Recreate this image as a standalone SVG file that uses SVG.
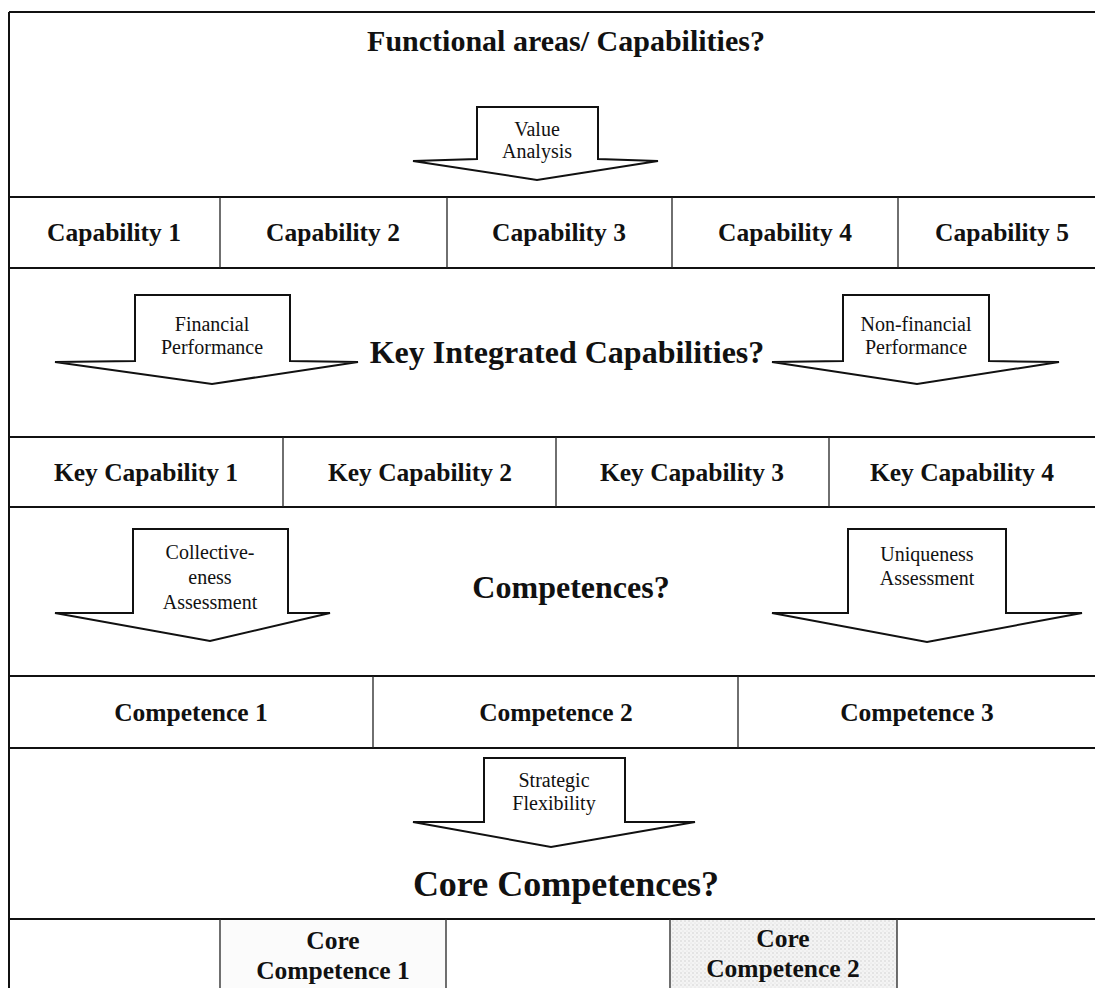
<svg xmlns="http://www.w3.org/2000/svg" width="1095" height="988" viewBox="0 0 1095 988">
  <style>
    .frame { stroke: #111; stroke-width: 2; fill: none; }
    .hline { stroke: #111; stroke-width: 1.8; }
    .vline { stroke: #222; stroke-width: 1.3; }
    .head { font-family: "Liberation Serif", "Times New Roman", serif; font-weight: bold; font-size: 30px; fill: #111; text-anchor: middle; }
    .head-l { font-size: 32px; }
    .head-xl { font-size: 36px; }
    .label { font-family: "Liberation Serif", "Times New Roman", serif; font-weight: bold; font-size: 25.5px; fill: #111; text-anchor: middle; }
    .small { font-family: "Liberation Serif", "Times New Roman", serif; font-size: 20px; fill: #111; text-anchor: middle; }
    .arrow { fill: #fff; stroke: #111; stroke-width: 2; stroke-linejoin: miter; }
  </style>
  <defs>
    <pattern id="halftone" width="4" height="4" patternUnits="userSpaceOnUse">
      <rect width="4" height="4" fill="#f4f4f4"/>
      <circle cx="1" cy="1" r="0.7" fill="#c8c8c8"/>
      <circle cx="3" cy="3" r="0.5" fill="#d8d8d8"/>
    </pattern>
  </defs>

  <rect width="1095" height="988" fill="#fff"/>

  <!-- shaded cells of the bottom row -->
  <rect x="221" y="920" width="225" height="68" fill="#fbfbfb"/>
  <rect x="671" y="920" width="226" height="68" fill="url(#halftone)"/>

  <!-- outer frame and row dividers -->
  <g id="grid">
    <line class="frame" x1="9" y1="12" x2="9" y2="988"/>
    <line class="hline" x1="9" y1="12" x2="1095" y2="12"/>
    <line class="hline" x1="9" y1="197" x2="1095" y2="197"/>
    <line class="hline" x1="9" y1="268" x2="1095" y2="268"/>
    <line class="hline" x1="9" y1="437" x2="1095" y2="437"/>
    <line class="hline" x1="9" y1="507" x2="1095" y2="507"/>
    <line class="hline" x1="9" y1="676" x2="1095" y2="676"/>
    <line class="hline" x1="9" y1="748" x2="1095" y2="748"/>
    <line class="hline" x1="9" y1="919" x2="1095" y2="919"/>
    <!-- capability row -->
    <line class="vline" x1="220" y1="197" x2="220" y2="268"/>
    <line class="vline" x1="447" y1="197" x2="447" y2="268"/>
    <line class="vline" x1="672" y1="197" x2="672" y2="268"/>
    <line class="vline" x1="898" y1="197" x2="898" y2="268"/>
    <!-- key capability row -->
    <line class="vline" x1="283" y1="437" x2="283" y2="507"/>
    <line class="vline" x1="556" y1="437" x2="556" y2="507"/>
    <line class="vline" x1="829" y1="437" x2="829" y2="507"/>
    <!-- competence row -->
    <line class="vline" x1="373" y1="676" x2="373" y2="748"/>
    <line class="vline" x1="738" y1="676" x2="738" y2="748"/>
    <!-- core competence row -->
    <line class="vline" x1="220" y1="919" x2="220" y2="988"/>
    <line class="vline" x1="446" y1="919" x2="446" y2="988"/>
    <line class="vline" x1="670" y1="919" x2="670" y2="988"/>
    <line class="vline" x1="897" y1="919" x2="897" y2="988"/>
  </g>

  <!-- stage headings -->
  <g id="heading-functional"><text class="head" x="566" y="51">Functional areas/ Capabilities?</text></g>
  <g id="heading-key"><text class="head head-l" x="567" y="363">Key Integrated Capabilities?</text></g>
  <g id="heading-competences"><text class="head head-l" x="571" y="598">Competences?</text></g>
  <g id="heading-core"><text class="head head-xl" x="566" y="896">Core Competences?</text></g>

  <!-- capability cells -->
  <g id="capability-1"><text class="label" x="114" y="241">Capability 1</text></g>
  <g id="capability-2"><text class="label" x="333" y="241">Capability 2</text></g>
  <g id="capability-3"><text class="label" x="559" y="241">Capability 3</text></g>
  <g id="capability-4"><text class="label" x="785" y="241">Capability 4</text></g>
  <g id="capability-5"><text class="label" x="1002" y="241">Capability 5</text></g>

  <!-- key capability cells -->
  <g id="key-capability-1"><text class="label" x="146" y="481">Key Capability 1</text></g>
  <g id="key-capability-2"><text class="label" x="420" y="481">Key Capability 2</text></g>
  <g id="key-capability-3"><text class="label" x="692" y="481">Key Capability 3</text></g>
  <g id="key-capability-4"><text class="label" x="962" y="481">Key Capability 4</text></g>

  <!-- competence cells -->
  <g id="competence-1"><text class="label" x="191" y="721">Competence 1</text></g>
  <g id="competence-2"><text class="label" x="556" y="721">Competence 2</text></g>
  <g id="competence-3"><text class="label" x="917" y="721">Competence 3</text></g>

  <!-- core competence cells -->
  <g id="core-competence-1">
    <text class="label" x="333" y="949">Core</text>
    <text class="label" x="333" y="979">Competence 1</text>
  </g>
  <g id="core-competence-2">
    <text class="label" x="783" y="947">Core</text>
    <text class="label" x="783" y="977">Competence 2</text>
  </g>

  <!-- block arrows between stages -->
  <g id="connectors">
    <g id="arrow-value">
      <polygon class="arrow" points="477,107 598,107 598,159 658,161 537,180 413,161 477,159"/>
      <text class="small" x="537" y="136">Value</text>
      <text class="small" x="537" y="158">Analysis</text>
    </g>
    <g id="arrow-financial">
      <polygon class="arrow" points="135,295 290,295 290,361 358,362 212,384 55,362 135,361"/>
      <text class="small" x="212" y="331">Financial</text>
      <text class="small" x="212" y="354">Performance</text>
    </g>
    <g id="arrow-nonfinancial">
      <polygon class="arrow" points="843,295 989,295 989,361 1059,362 917,384 772,362 843,361"/>
      <text class="small" x="916" y="331">Non-financial</text>
      <text class="small" x="916" y="354">Performance</text>
    </g>
    <g id="arrow-collective">
      <polygon class="arrow" points="133,529 288,529 288,613 330,613 210,641 55,613 133,613"/>
      <text class="small" x="210" y="559">Collective-</text>
      <text class="small" x="210" y="584">eness</text>
      <text class="small" x="210" y="609">Assessment</text>
    </g>
    <g id="arrow-uniqueness">
      <polygon class="arrow" points="848,529 1006,529 1006,613 1082,613 927,642 772,613 848,613"/>
      <text class="small" x="927" y="561">Uniqueness</text>
      <text class="small" x="927" y="585">Assessment</text>
    </g>
    <g id="arrow-strategic">
      <polygon class="arrow" points="484,758 625,758 625,822 695,822 551,847 413,822 484,822"/>
      <text class="small" x="554" y="787">Strategic</text>
      <text class="small" x="554" y="810">Flexibility</text>
    </g>
  </g>
</svg>
